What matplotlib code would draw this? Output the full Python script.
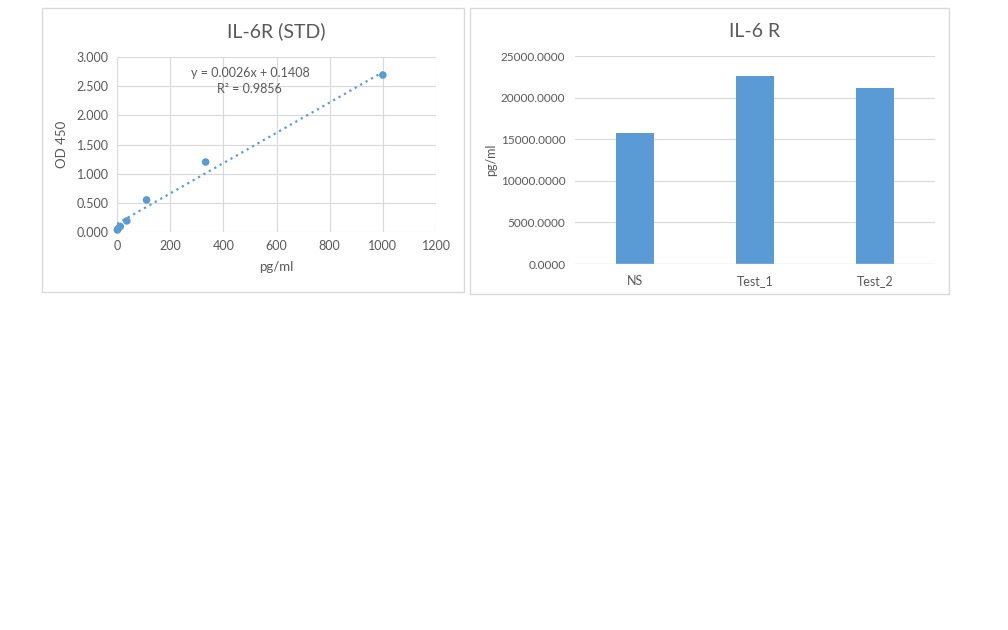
import numpy as np
import matplotlib.pyplot as plt
import matplotlib.patches as patches

# standard curve data
std_conc = [1000, 333.3, 111.1, 37.0, 12.3, 4.1, 1.4]
std_od = [2.690, 1.200, 0.550, 0.190, 0.095, 0.055, 0.035]
fit_slope = 0.0026
fit_icpt = 0.1408
fit_r2 = 0.9856

# sample results
samples = ['NS', 'Test_1', 'Test_2']
sample_vals = [15750, 22600, 21150]

BLUE = '#5B9BD5'
GRID = '#D9D9D9'
TXT = '#595959'

plt.rcParams['font.family'] = ['Lato', 'DejaVu Sans']

W, H = 1008, 630
fig = plt.figure(figsize=(W / 100, H / 100), dpi=100)
fig.patch.set_facecolor('white')

def fx(px):
    return px / W

def fy(py):
    return 1 - py / H

# chart frames
for x0, y0, x1, y1 in [(42, 8, 464, 292), (470, 8, 949, 294)]:
    fig.patches.append(patches.Rectangle((fx(x0), fy(y1)), fx(x1 - x0), (y1 - y0) / H,
                                         transform=fig.transFigure, fill=False,
                                         edgecolor=GRID, linewidth=1))

def style(ax):
    for s in ax.spines.values():
        s.set_visible(False)
    ax.tick_params(length=0, labelsize=9, colors=TXT, pad=6)
    ax.set_axisbelow(True)

# left: standard curve
ax1 = fig.add_axes([fx(117), fy(232), fx(436 - 117), (232 - 57) / H])
style(ax1)
ax1.grid(True, color=GRID, linewidth=0.8)
ax1.set_xlim(0, 1200)
ax1.set_ylim(0, 3.0)
ax1.set_xticks(np.arange(0, 1201, 200))
ax1.set_yticks(np.arange(0, 3.01, 0.5))
ax1.set_yticklabels([f'{v:.3f}' for v in np.arange(0, 3.01, 0.5)])
xs = np.array([0, 1000])
ax1.plot(xs, fit_slope * xs + fit_icpt, linestyle=(0, (1, 1.8)), color=BLUE, linewidth=1.6)
ax1.scatter(std_conc, std_od, s=30, color=BLUE, zorder=3, edgecolors='none', clip_on=False)
ax1.text(500, 2.73, f'y = {fit_slope}x + {fit_icpt}', ha='center', va='center', fontsize=9, color=TXT)
ax1.text(500, 2.45, f'R² = {fit_r2}', ha='center', va='center', fontsize=9, color=TXT)
ax1.set_xlabel('pg/ml', fontsize=9.5, color=TXT, labelpad=6)
ax1.set_ylabel('OD 450', fontsize=9.5, color=TXT)
ax1.yaxis.set_label_coords(-0.154, 0.5)
ax1.set_title('IL-6R (STD)', fontsize=14, color=TXT, pad=14)

# right: sample bars
ax2 = fig.add_axes([fx(575), fy(264), fx(935 - 575), (264 - 56) / H])
style(ax2)
ax2.grid(True, axis='y', color=GRID, linewidth=0.8)
ax2.bar(range(len(samples)), sample_vals, width=0.32, color=BLUE)
ax2.set_xlim(-0.5, len(samples) - 0.5)
ax2.set_ylim(0, 25000)
ax2.set_yticks(np.arange(0, 25001, 5000))
ax2.set_yticklabels([f'{v:.4f}' for v in np.arange(0, 25001, 5000)])
ax2.set_xticks(range(len(samples)))
ax2.set_xticklabels(samples)
ax2.axhline(0, color=GRID, linewidth=1)
ax2.tick_params(axis='x', pad=8)
ax2.tick_params(axis='y', pad=7, labelsize=8.5)
ax2.set_ylabel('pg/ml', fontsize=9, color=TXT)
ax2.yaxis.set_label_coords(-0.217, 0.5)
ax2.set_title('IL-6 R', fontsize=14, color=TXT, pad=14)

fig.savefig('out.png', dpi=100, facecolor='white')
